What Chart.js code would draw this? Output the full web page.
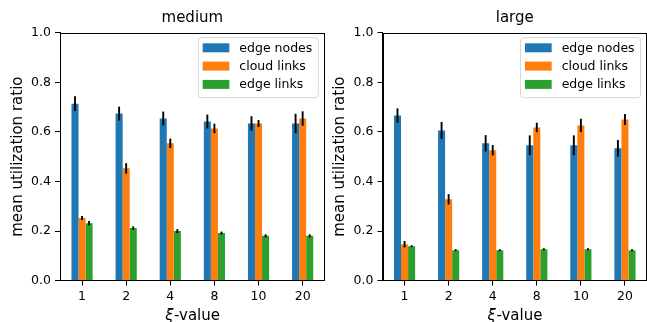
<!DOCTYPE html>
<html><head><meta charset="utf-8">
<script src="https://cdn.jsdelivr.net/npm/chart.js@4.4.1/dist/chart.umd.min.js"></script>
<style>
html,body{margin:0;padding:0;background:#fff;width:647px;height:322px;overflow:hidden;}
.wrap{position:absolute;top:0;height:322px;}
#w1{left:0;width:330px;}
#w2{left:322px;width:325px;}
</style></head><body>
<div class="wrap" id="w1"><canvas id="c1"></canvas></div>
<div class="wrap" id="w2"><canvas id="c2"></canvas></div>
<script>
const categories = ['1', '2', '4', '8', '10', '20'];
const seriesNames = ['edge nodes', 'cloud links', 'edge links'];
const seriesColors = ['#1f77b4', '#ff7f0e', '#2ca02c'];
const yTicks = [0.0, 0.2, 0.4, 0.6, 0.8, 1.0];

// medium
const mediumEdgeNodes = [0.714, 0.674, 0.654, 0.642, 0.634, 0.634];
const mediumEdgeNodesErr = [0.030, 0.028, 0.028, 0.028, 0.029, 0.039];
const mediumCloudLinks = [0.253, 0.453, 0.554, 0.614, 0.634, 0.654];
const mediumCloudLinksErr = [0.008, 0.021, 0.019, 0.019, 0.014, 0.029];
const mediumEdgeLinks = [0.232, 0.212, 0.200, 0.192, 0.181, 0.181];
const mediumEdgeLinksErr = [0.009, 0.007, 0.008, 0.006, 0.006, 0.006];

// large
const largeEdgeNodes = [0.666, 0.606, 0.554, 0.546, 0.546, 0.534];
const largeEdgeNodesErr = [0.029, 0.034, 0.033, 0.040, 0.040, 0.033];
const largeCloudLinks = [0.147, 0.328, 0.526, 0.618, 0.626, 0.650];
const largeCloudLinksErr = [0.013, 0.021, 0.021, 0.019, 0.027, 0.022];
const largeEdgeLinks = [0.139, 0.123, 0.123, 0.127, 0.127, 0.123];
const largeEdgeLinksErr = [0.004, 0.004, 0.004, 0.004, 0.004, 0.004];

const FONT = '"DejaVu Sans", sans-serif';

const errorBarPlugin = {
  id: 'errorBars',
  afterDatasetsDraw(chart) {
    const ctx = chart.ctx, ys = chart.scales.y;
    ctx.save();
    ctx.strokeStyle = '#000';
    ctx.lineWidth = 1.9;
    chart.data.datasets.forEach((ds, i) => {
      const meta = chart.getDatasetMeta(i);
      ds.errors.forEach((e, j) => {
        const v = ds.data[j];
        const x = meta.data[j].x;
        ctx.beginPath();
        ctx.moveTo(x, ys.getPixelForValue(v - e));
        ctx.lineTo(x, ys.getPixelForValue(v + e));
        ctx.stroke();
      });
    });
    ctx.restore();
  }
};

const framePlugin = {
  id: 'frame',
  afterDraw(chart) {
    const ctx = chart.ctx, a = chart.chartArea;
    ctx.save();
    ctx.strokeStyle = '#000';
    ctx.lineWidth = 1;
    const l = Math.round(a.left) + 0.5, r = Math.round(a.right) - 0.5;
    const t = Math.round(a.top) + 0.5, b = Math.round(a.bottom) - 0.5;
    ctx.strokeRect(l, t, r - l, b - t);
    ctx.restore();
  }
};

const legendPlugin = {
  id: 'boxLegend',
  afterDraw(chart) {
    const ctx = chart.ctx, a = chart.chartArea;
    ctx.save();
    ctx.font = '12.5px ' + FONT;
    const labels = chart.data.datasets.map(d => d.label);
    const maxW = Math.max(...labels.map(t => ctx.measureText(t).width));
    const padL = 4.4, patchW = 26.7, patchH = 9, gap = 10, padR = 6, rowH = 18.3;
    const boxW = padL + patchW + gap + maxW + padR;
    const boxH = 60;
    const right = a.right - 6.4, top = a.top + 5;
    const left = right - boxW;
    const rr = 3;
    ctx.beginPath();
    ctx.moveTo(left + rr, top);
    ctx.lineTo(right - rr, top);
    ctx.quadraticCurveTo(right, top, right, top + rr);
    ctx.lineTo(right, top + boxH - rr);
    ctx.quadraticCurveTo(right, top + boxH, right - rr, top + boxH);
    ctx.lineTo(left + rr, top + boxH);
    ctx.quadraticCurveTo(left, top + boxH, left, top + boxH - rr);
    ctx.lineTo(left, top + rr);
    ctx.quadraticCurveTo(left, top, left + rr, top);
    ctx.closePath();
    ctx.fillStyle = 'rgba(255,255,255,0.8)';
    ctx.fill();
    ctx.strokeStyle = '#d6d6d6';
    ctx.lineWidth = 1;
    ctx.stroke();
    chart.data.datasets.forEach((d, k) => {
      const py = top + 5.6 + k * rowH;
      ctx.fillStyle = d.backgroundColor;
      ctx.fillRect(left + padL, py, patchW, patchH);
      ctx.fillStyle = '#000';
      ctx.textBaseline = 'middle';
      ctx.textAlign = 'left';
      ctx.fillText(d.label, left + padL + patchW + gap, py + patchH / 2 + 0.5);
    });
    ctx.restore();
  }
};

const xTitlePlugin = {
  id: 'xTitle',
  afterDraw(chart) {
    const ctx = chart.ctx, a = chart.chartArea;
    ctx.save();
    const cx = (a.left + a.right) / 2;
    const itFont = 'italic 15px ' + FONT, nFont = '15px ' + FONT;
    ctx.font = itFont; const w1 = ctx.measureText('ξ').width;
    ctx.font = nFont; const w2 = ctx.measureText('-value').width;
    let x = cx - (w1 + w2) / 2;
    const y = 319.5;
    ctx.fillStyle = '#000';
    ctx.textBaseline = 'alphabetic';
    ctx.textAlign = 'left';
    ctx.font = itFont; ctx.fillText('ξ', x, y);
    ctx.font = nFont; ctx.fillText('-value', x + w1 + 0.5, y);
    ctx.restore();
  }
};

function makeChart(id, title, values, errors, yWidth, padRight) {
  const datasets = seriesNames.map((name, i) => ({
    label: name,
    data: values[i],
    errors: errors[i],
    backgroundColor: seriesColors[i],
    borderWidth: 0,
    categoryPercentage: 0.48,
    barPercentage: 1.0
  }));
  return new Chart(document.getElementById(id), {
    type: 'bar',
    data: { labels: categories, datasets },
    options: {
      responsive: true,
      maintainAspectRatio: false,
      devicePixelRatio: 1,
      animation: false,
      layout: { padding: { left: 0, right: padRight, top: 0, bottom: 0 } },
      plugins: {
        legend: { display: false },
        tooltip: { enabled: false },
        title: {
          display: true, text: title, color: '#000', fullSize: false,
          font: { family: FONT, size: 15, weight: 'normal', lineHeight: 1.2 },
          padding: { top: 8.7, bottom: 6 }
        }
      },
      scales: {
        x: {
          type: 'category',
          offset: true,
          grid: { display: true, offset: false, drawOnChartArea: false, drawTicks: true, tickLength: 5, color: '#000', lineWidth: 1 },
          border: { display: true, color: '#000', width: 1 },
          ticks: { color: '#000', font: { family: FONT, size: 12.5 }, padding: 4, maxRotation: 0, autoSkip: false },
          title: { display: false },
          afterFit: s => { s.height = 41.3; }
        },
        y: {
          min: 0, max: 1,
          afterBuildTicks: s => { s.ticks = yTicks.map(v => ({ value: v })); },
          grid: { display: true, drawOnChartArea: false, drawTicks: true, tickLength: 5, color: '#000', lineWidth: 1 },
          border: { display: true, color: '#000', width: 1 },
          ticks: { color: '#000', font: { family: FONT, size: 12.5 }, padding: 4, callback: v => Number(v).toFixed(1) },
          title: {
            display: true, text: 'mean utilization ratio', color: '#000',
            font: { family: FONT, size: 15, lineHeight: 1.2 },
            padding: { top: 9.5, bottom: 0 }
          },
          afterFit: s => { s.width = yWidth; }
        }
      }
    },
    plugins: [errorBarPlugin, framePlugin, legendPlugin, xTitlePlugin]
  });
}

makeChart('c1', 'medium',
  [mediumEdgeNodes, mediumCloudLinks, mediumEdgeLinks],
  [mediumEdgeNodesErr, mediumCloudLinksErr, mediumEdgeLinksErr], 60, 5.3);
makeChart('c2', 'large',
  [largeEdgeNodes, largeCloudLinks, largeEdgeLinks],
  [largeEdgeNodesErr, largeCloudLinksErr, largeEdgeLinksErr], 60.5, 0);
</script>
</body></html>
